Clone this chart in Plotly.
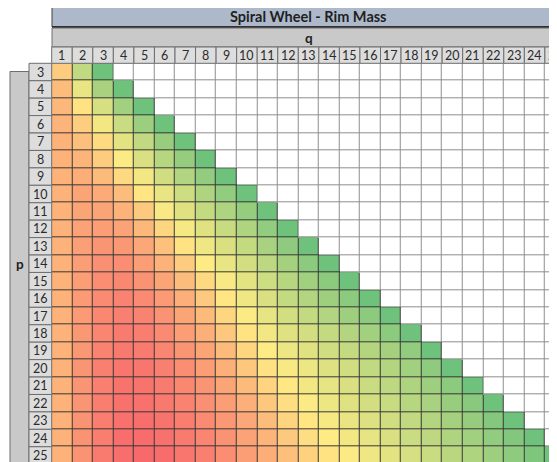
import numpy as np
import plotly.graph_objects as go

# ---------------- data ----------------
title_text = "Spiral Wheel - Rim Mass"
q_labels = list(range(1, 26))          # columns
p_labels = list(range(3, 26))          # rows

# relative rim mass (0 = lowest / green, 100 = highest / red), estimated from the colours
row_p3 = [62, 30, 4]
row_p4 = [68, 43, 22, 4]
row_p5 = [70, 53, 37, 20, 4]
row_p6 = [71, 61, 46, 33, 18, 4]
row_p7 = [72, 67, 56, 41, 30, 17, 4]
row_p8 = [72, 71, 62, 49, 38, 27, 16, 4]
row_p9 = [72, 74, 69, 57, 46, 35, 25, 15, 4]
row_p10 = [72, 77, 75, 68, 52, 43, 34, 24, 15, 4]
row_p11 = [72, 77, 77, 72, 63, 48, 40, 31, 24, 16, 4]
row_p12 = [72, 78, 80, 78, 70, 58, 47, 40, 32, 24, 15, 4]
row_p13 = [72, 79, 83, 82, 76, 66, 53, 45, 38, 31, 22, 14, 4]
row_p14 = [72, 80, 85, 86, 80, 72, 62, 50, 43, 36, 29, 21, 13, 4]
row_p15 = [72, 80, 86, 88, 84, 77, 68, 57, 48, 41, 34, 27, 20, 13, 4]
row_p16 = [72, 81, 87, 90, 87, 81, 73, 63, 52, 45, 38, 31, 26, 19, 13, 4]
row_p17 = [72, 81, 88, 91, 90, 84, 77, 69, 58, 49, 42, 36, 31, 25, 19, 13, 4]
row_p18 = [72, 82, 89, 93, 92, 87, 80, 73, 64, 53, 46, 40, 36, 31, 26, 20, 13, 4]
row_p19 = [72, 82, 90, 94, 93, 89, 83, 77, 69, 58, 50, 44, 40, 35, 31, 26, 21, 15, 4]
row_p20 = [72, 83, 91, 95, 95, 91, 86, 80, 73, 64, 54, 48, 44, 39, 35, 30, 26, 20, 14, 4]
row_p21 = [72, 83, 91, 96, 96, 93, 88, 83, 77, 69, 59, 51, 46, 42, 38, 33, 29, 24, 19, 13, 4]
row_p22 = [72, 83, 92, 97, 97, 94, 90, 85, 80, 73, 64, 55, 49, 44, 40, 36, 32, 27, 22, 17, 12, 4]
row_p23 = [72, 84, 92, 97, 98, 96, 92, 87, 82, 76, 68, 59, 52, 47, 43, 39, 35, 30, 26, 21, 16, 11, 4]
row_p24 = [72, 84, 92, 98, 99, 97, 93, 89, 84, 78, 71, 63, 55, 50, 46, 42, 38, 33, 29, 24, 20, 15, 10, 4]
row_p25 = [72, 84, 93, 98, 100, 99, 95, 91, 86, 80, 74, 67, 60, 53, 49, 45, 41, 37, 33, 28, 24, 19, 14, 9, 4]

rows = [row_p3, row_p4, row_p5, row_p6, row_p7, row_p8, row_p9, row_p10, row_p11,
        row_p12, row_p13, row_p14, row_p15, row_p16, row_p17, row_p18, row_p19,
        row_p20, row_p21, row_p22, row_p23, row_p24, row_p25]

# ---------------- build matrices ----------------
nq = len(q_labels)
Z = np.full((len(p_labels), nq), np.nan)
for i, r in enumerate(rows):
    Z[i, :len(r)] = r
filled = ~np.isnan(Z)
Zwhite = np.where(filled, np.nan, 0.0)
Zborder = np.where(filled, 1.0, 0.0)

# ---------------- geometry (reference pixel -> data) ----------------
W, H = 557, 462           # window size
OFF = 8                   # page body margin of the html page
X0, CW = 51.7, 20.55      # left edge of column 1, column width
Y0, RH = 63.3, 17.43      # top edge of row p=3, row height


def px2x(px):
    return 0.5 + (px - X0) / CW


def px2y(py):
    return 2.5 + (py - Y0) / RH


FONT = "Lato, 'Open Sans', sans-serif"

fig = go.Figure()

# border colour layer
fig.add_trace(go.Heatmap(
    x=q_labels, y=p_labels, z=Zborder, zmin=0, zmax=1,
    colorscale=[[0, "#8E8E8E"], [1, "#383838"]],
    showscale=False, hoverinfo="skip"))
# empty cells (white)
fig.add_trace(go.Heatmap(
    x=q_labels, y=p_labels, z=Zwhite, zmin=0, zmax=1,
    colorscale=[[0, "#FFFFFF"], [1, "#FFFFFF"]],
    xgap=1, ygap=1, showscale=False, hoverinfo="skip"))
# coloured cells
fig.add_trace(go.Heatmap(
    x=q_labels, y=p_labels, z=Z, zmin=0, zmax=100,
    colorscale=[[0, "#63BE7B"], [0.5, "#FFEB84"], [1, "#F8696B"]],
    xgap=1, ygap=1, showscale=False,
    hovertemplate="p=%{y}, q=%{x}: %{z}<extra></extra>"))

shapes = []
annotations = []
LINE_D = "#404040"
LINE_M = "#6E6E6E"

# title bar
shapes.append(dict(type="rect", xref="x", yref="y",
                   x0=px2x(52), x1=px2x(570), y0=px2y(5), y1=px2y(27),
                   fillcolor="#ADB9CA", line=dict(color=LINE_D, width=1)))
shapes.append(dict(type="line", xref="x", yref="y",
                   x0=px2x(52), x1=px2x(570), y0=px2y(27), y1=px2y(27),
                   line=dict(color="#303030", width=2)))
# q row
shapes.append(dict(type="rect", xref="x", yref="y",
                   x0=px2x(52), x1=px2x(570), y0=px2y(28), y1=px2y(47),
                   fillcolor="#C9C9C9", line=dict(color=LINE_M, width=1)))
# column number cells
for q in q_labels:
    shapes.append(dict(type="rect", xref="x", yref="y",
                       x0=q - 0.5, x1=q + 0.5, y0=px2y(47), y1=2.5,
                       fillcolor="#DDDDDD", line=dict(color=LINE_M, width=1)))
    annotations.append(dict(x=q, y=px2y(55.5), xref="x", yref="y", text=str(q),
                            showarrow=False, font=dict(family=FONT, size=12.5, color="#2B2B2B")))
# p column
shapes.append(dict(type="rect", xref="x", yref="y",
                   x0=px2x(10), x1=px2x(29), y0=px2y(71.5), y1=px2y(470),
                   fillcolor="#C9C9C9", line=dict(color=LINE_M, width=1)))
# row number cells
for p in p_labels:
    shapes.append(dict(type="rect", xref="x", yref="y",
                       x0=px2x(29), x1=0.5, y0=p - 0.5, y1=p + 0.5,
                       fillcolor="#DDDDDD", line=dict(color=LINE_M, width=1)))
    annotations.append(dict(x=px2x(40.5), y=p, xref="x", yref="y", text=str(p),
                            showarrow=False, font=dict(family=FONT, size=12.5, color="#2B2B2B")))

annotations.append(dict(x=px2x(308.5), y=px2y(16.5), xref="x", yref="y",
                        text="<b>" + title_text + "</b>", showarrow=False,
                        font=dict(family=FONT, size=14.5, color="#1F1F1F")))
annotations.append(dict(x=px2x(308.5), y=px2y(37.5), xref="x", yref="y",
                        text="<b>q</b>", showarrow=False,
                        font=dict(family=FONT, size=13.5, color="#1F1F1F")))
annotations.append(dict(x=px2x(19.5), y=14, xref="x", yref="y",
                        text="<b>p</b>", showarrow=False,
                        font=dict(family=FONT, size=13.5, color="#1F1F1F")))

fig.update_layout(
    width=W - OFF, height=H - OFF,
    margin=dict(l=0, r=0, t=0, b=0),
    paper_bgcolor="white", plot_bgcolor="white",
    xaxis=dict(range=[px2x(OFF), px2x(W)], visible=False, fixedrange=True),
    yaxis=dict(range=[px2y(H), px2y(OFF)], visible=False, fixedrange=True),
    shapes=shapes, annotations=annotations,
    showlegend=False,
)

fig.write_html("out.html")
